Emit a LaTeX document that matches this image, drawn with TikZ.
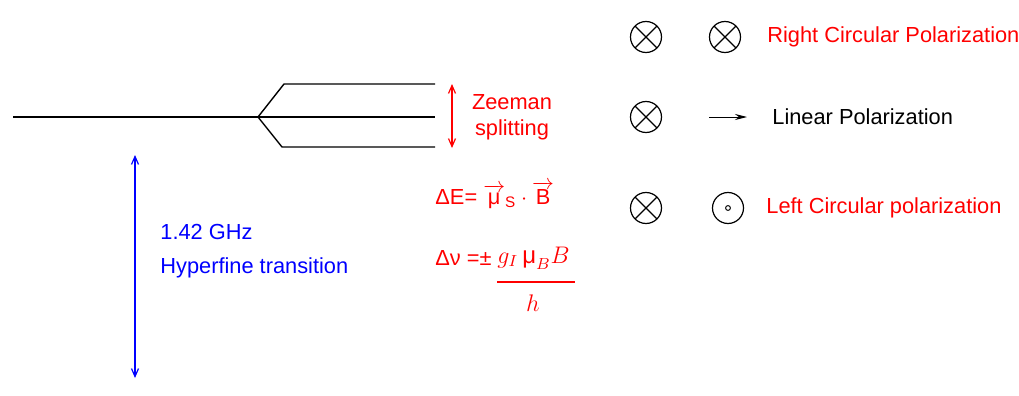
\documentclass[tikz,border=0pt]{standalone}
\usepackage{amsmath}
\usepackage{fontspec}
\setmainfont{Liberation Sans}
\usetikzlibrary{arrows.meta, positioning, calc}

\begin{document}
\begin{tikzpicture}[
    x=0.5pt, y=-0.5pt,
    level/.style={line width=0.7pt},
    gaparrow/.style={{Straight Barb[length=4pt, width=3.5pt]}-{Straight Barb[length=4pt, width=3.5pt]}, line width=0.6pt},
    lbl/.style={font=\fontsize{10.9}{13}\selectfont, anchor=west, inner sep=0pt},
    xcirc/.style={circle, draw, minimum size=15.5pt, inner sep=0pt, line width=0.6pt,
      path picture={\draw[line width=0.6pt]
        (path picture bounding box.north west) -- (path picture bounding box.south east)
        (path picture bounding box.north east) -- (path picture bounding box.south west);}},
    dotcirc/.style={circle, draw, minimum size=15.5pt, inner sep=0pt, line width=0.6pt,
      path picture={\draw[line width=0.5pt] (path picture bounding box.center) circle (1.2pt);}},
    font=\fontsize{10.9}{13}\selectfont
  ]
  \useasboundingbox (0,0) rectangle (1019,396);

  % energy levels
  \coordinate (lvl0) at (13,117);
  \coordinate (split) at (258,117);
  \coordinate (upk) at (284,84);
  \coordinate (upend) at (435,84);
  \coordinate (midend) at (435,117);
  \coordinate (lowk) at (282,147);
  \coordinate (lowend) at (435,147);

  \draw[level] (lvl0) -- (split) -- (midend);
  \draw[level] (split) -- (upk) -- (upend);
  \draw[level] (split) -- (lowk) -- (lowend);

  % zeeman splitting
  \coordinate (zt) at (452,84);
  \coordinate (zb) at (452,148);
  \draw[gaparrow, red] (zt) -- (zb);
  \node[lbl, text=red, align=center, anchor=center] (zeeman) at (512,117) {Zeeman\\splitting};

  % hyperfine transition
  \coordinate (ht) at (135,155);
  \coordinate (hb) at (135,378);
  \draw[gaparrow, blue] (ht) -- (hb);
  \node[lbl, text=blue] (ghz) at (160,232) {1.42 GHz};
  \node[lbl, text=blue] (hyper) at (160,268) {Hyperfine transition};

  % formulas
  \node[lbl, text=red] (dE) at (435,195)
    {ΔE= \(\overrightarrow{\text{μ}}_{\text{S}}\cdot\overrightarrow{\text{B}}\)};
  \node[lbl, text=red] (dnu) at (435,258) {Δν =±};
  \node[lbl, text=red] (numer) at (497,258) {\large\(g_I\,\text{μ}_B B\)};
  \coordinate (fracl) at (497,282);
  \coordinate (fracr) at (575,282);
  \draw[red, line width=0.6pt] (fracl) -- (fracr);
  \node[lbl, text=red, anchor=center] (denom) at (533,303) {\large\(h\)};

  % polarizations
  \node[xcirc] (r1a) at (646,37) {};
  \node[xcirc] (r1b) at (725,37) {};
  \node[lbl, text=red] (rcp) at (767,37) {Right Circular Polarization};

  \node[xcirc] (r2a) at (646,117) {};
  \coordinate (lin0) at (709,117);
  \coordinate (lin1) at (747,117);
  \draw[-{Stealth[length=6pt, width=3pt]}, line width=0.5pt] (lin0) -- (lin1);
  \node[lbl] (lp) at (772,117) {Linear Polarization};

  \node[xcirc] (r3a) at (646,208) {};
  \node[dotcirc] (r3b) at (728,208) {};
  \node[lbl, text=red] (lcp) at (766,208) {Left Circular polarization};
\end{tikzpicture}
\end{document}
